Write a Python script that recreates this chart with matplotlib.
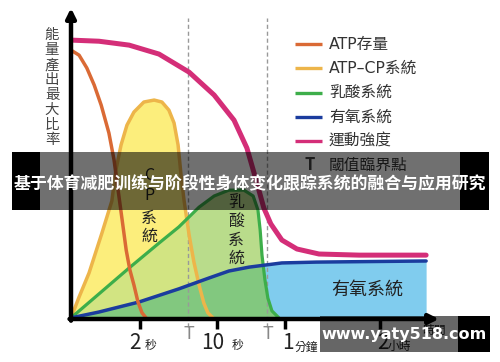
import matplotlib

matplotlib.use("Agg")
import matplotlib.pyplot as plt
from matplotlib.patches import Rectangle

plt.rcParams["font.family"] = ["Noto Sans CJK TC", "DejaVu Sans"]

# x: position along the (non-linear) time axis, 0-100
# y: share of maximum energy output, 0-100
ATP_X = [0, 2.2, 4.3, 6.3, 8.2, 10.3, 11.7, 12.8, 13.9, 15.0, 16.0, 17.1, 18.2, 19.3, 20.4]
ATP_Y = [96.4, 94.6, 90.0, 83.9, 76.7, 66.7, 57.0, 46.2, 35.5, 24.7, 17.6, 12.2, 6.1, 2.2, 0.4]

CP_X = [0, 2.2, 4.9, 8.4, 11.1, 12.2, 13.6, 15.2, 17.1, 19.8, 22.6, 24.7, 26.6, 28.0,
        29.1, 29.9, 30.7, 32.1, 33.4, 34.8, 36.1, 37.2, 38.6]
CP_Y = [0.4, 7.9, 16.5, 30.8, 42.3, 53.4, 62.4, 69.5, 74.2, 77.8, 78.5, 77.8, 74.9, 70.3,
        62.4, 51.6, 42.7, 30.1, 20.4, 12.2, 5.7, 2.2, 0.4]

LA_X = [0, 7.6, 15.8, 23.9, 29.3, 34.8, 38.9, 42.9, 47.0, 49.5, 50.8, 51.4, 51.9, 52.7,
        53.5, 54.6, 56.5]
LA_Y = [0.4, 9.0, 18.3, 27.2, 33.0, 40.1, 44.1, 46.2, 46.2, 44.1, 39.1, 31.9, 22.9, 14.0,
        7.5, 2.9, 0.4]

AER_X = [0, 7.6, 18.5, 29.3, 37.5, 42.9, 48.4, 57.3, 66.6, 96.5]
AER_Y = [0.4, 2.5, 6.1, 10.8, 14.7, 17.2, 18.6, 20.1, 20.4, 20.8]

INT_X = [0, 7.6, 15.8, 23.9, 32.1, 38.9, 44.3, 47.8, 50.3, 52.4, 54.3, 57.3, 61.4, 67.4,
         78.3, 96.5]
INT_Y = [100, 99.6, 98.2, 95.0, 88.5, 80.3, 71.3, 61.3, 49.8, 39.8, 34.1, 28.3, 25.1, 23.3,
         22.9, 22.9]

TICK_POS = [18.75, 39.7, 58.2, 84.0]
T_POS = [31.8, 53.3]

LEGEND = ["ATP存量", "ATP–CP系統", "乳酸系統", "有氧系統", "運動強度"]
COLORS = ["#DA6A35", "#EDB54A", "#3DAE4A", "#1B3C9E", "#D42E78"]
TITLE = "基于体育减肥训练与阶段性身体变化跟踪系统的融合与应用研究"

fig = plt.figure(figsize=(5, 3.62), dpi=100)
ax = fig.add_axes([0.142, 0.1188, 0.736, 0.859])
ax.set_xlim(0, 100)
ax.set_ylim(0, 111.5)
for s in ax.spines.values():
    s.set_visible(False)
ax.set_yticks([])
ax.set_xticks(TICK_POS)
ax.set_xticklabels([])
ax.tick_params(axis="x", length=7, width=2.5, color="black", direction="out")

# fills: overlaps get their own flat colour through clipping
yellow = ax.fill_between(CP_X, CP_Y, 0, color="#FCEE7C", lw=0, zorder=1)
green = ax.fill_between(LA_X, LA_Y, 0, color="#B9DC8B", lw=0, zorder=2)
yg = ax.fill_between(CP_X, CP_Y, 0, color="#D2E482", lw=0, zorder=3)
yg.set_clip_path(green.get_paths()[0], ax.transData)
blue = ax.fill_between(AER_X, AER_Y, 0, color="#80CCEE", lw=0, zorder=4)
gb = ax.fill_between(LA_X, LA_Y, 0, color="#82C87F", lw=0, zorder=5)
gb.set_clip_path(blue.get_paths()[0], ax.transData)

# threshold lines
for t in T_POS:
    ax.plot([t, t], [-3, 108], color="#999999", lw=1.0, ls=(0, (3, 2)), zorder=6,
            clip_on=False)

ax.plot(CP_X, CP_Y, color=COLORS[1], lw=2.5, zorder=7, solid_capstyle="round")
ax.plot(LA_X, LA_Y, color=COLORS[2], lw=2.3, zorder=8, solid_capstyle="round")
ax.plot(AER_X, AER_Y, color=COLORS[3], lw=2.5, zorder=9, solid_capstyle="round")
ax.plot(ATP_X, ATP_Y, color=COLORS[0], lw=2.5, zorder=10, solid_capstyle="round")
ax.plot(INT_X, INT_Y, color=COLORS[4], lw=3.6, zorder=11, solid_capstyle="round")

# axes with arrows
arrow = dict(arrowstyle="-|>", lw=3.2, color="black", mutation_scale=14, shrinkA=0, shrinkB=0)
ax.annotate("", xy=(100, 0), xytext=(-0.4, 0), arrowprops=arrow, annotation_clip=False, zorder=12)
ax.annotate("", xy=(0, 111.5), xytext=(0, -0.6), arrowprops=arrow, annotation_clip=False, zorder=12)

# overlay in pixel coordinates
ov = fig.add_axes([0, 0, 1, 1], zorder=5)
ov.set_xlim(0, 500)
ov.set_ylim(362, 0)
ov.axis("off")
ov.patch.set_alpha(0)

# y label
for i, ch in enumerate("能量產出最大比率"):
    ov.text(52, 35 + i * 15, ch, ha="center", va="center", fontsize=10.4, color="#444444")

# tick labels
ov.text(135, 343, "2", ha="center", va="center", fontsize=15, color="#222222")
ov.text(151, 346, "秒", ha="center", va="center", fontsize=8.5, color="#222222")
ov.text(213, 343, "10", ha="center", va="center", fontsize=15, color="#222222")
ov.text(238, 346, "秒", ha="center", va="center", fontsize=8.5, color="#222222")
ov.text(288, 343, "1", ha="center", va="center", fontsize=15, color="#222222")
ov.text(306, 347, "分鐘", ha="center", va="center", fontsize=8.5, color="#222222")
ov.text(383, 343, "2", ha="center", va="center", fontsize=15, color="#222222")
ov.text(399, 346, "小時", ha="center", va="center", fontsize=8.5, color="#222222")
ov.text(434, 330, "時間", ha="center", va="center", fontsize=8.5, color="#222222")
for xp in [189, 268]:
    ov.text(xp, 334, "T", ha="center", va="center", fontsize=13, color="#888888")

# in-chart labels
for ch, yp in zip(["C", "P", "系", "統"], [175, 195, 218, 236]):
    ov.text(149, yp, ch, ha="center", va="center", fontsize=11.5, color="#222222")
for i, ch in enumerate("乳酸系統"):
    ov.text(236, 203 + i * 18.5, ch, ha="center", va="center", fontsize=11.5, color="#222222")
ov.text(367, 290, "有氧系統", ha="center", va="center", fontsize=13, color="#222222")

# legend
for i, (lab, c) in enumerate(zip(LEGEND, COLORS)):
    yp = 44 + i * 24.3
    ov.plot([295, 322], [yp, yp], color=c, lw=2.4, solid_capstyle="butt")
    ov.text(329, yp, lab, ha="left", va="center", fontsize=11.3, color="#333333",
            family=["DejaVu Sans", "Noto Sans CJK TC"])
ov.text(310, 165, "T", ha="center", va="center", fontsize=12, fontweight="bold", color="#444444")
ov.text(329, 165, "閾值臨界點", ha="left", va="center", fontsize=11.3, color="#333333")

# caption band
ov.add_patch(Rectangle((12, 152), 28, 58, color="black", zorder=20, lw=0))
ov.add_patch(Rectangle((460, 152), 29, 58, color="black", zorder=20, lw=0))
ov.add_patch(Rectangle((40, 152), 420, 58, color="black", alpha=0.56, zorder=20, lw=0))
ov.text(250, 184, TITLE, ha="center", va="center", fontsize=12.2, fontweight="bold",
        color="white", family=["Noto Sans CJK SC", "DejaVu Sans"], zorder=21)

# watermark
ov.add_patch(Rectangle((320, 316), 138, 36, color="black", alpha=0.6, zorder=20, lw=0))
ov.add_patch(Rectangle((458, 316), 32, 36, color="black", zorder=20, lw=0))
ov.text(404, 334, "www.yaty518.com", ha="center", va="center", fontsize=11.5,
        fontweight="bold", color="white", family="DejaVu Sans", zorder=21)

fig.savefig("out.png", dpi=100)
